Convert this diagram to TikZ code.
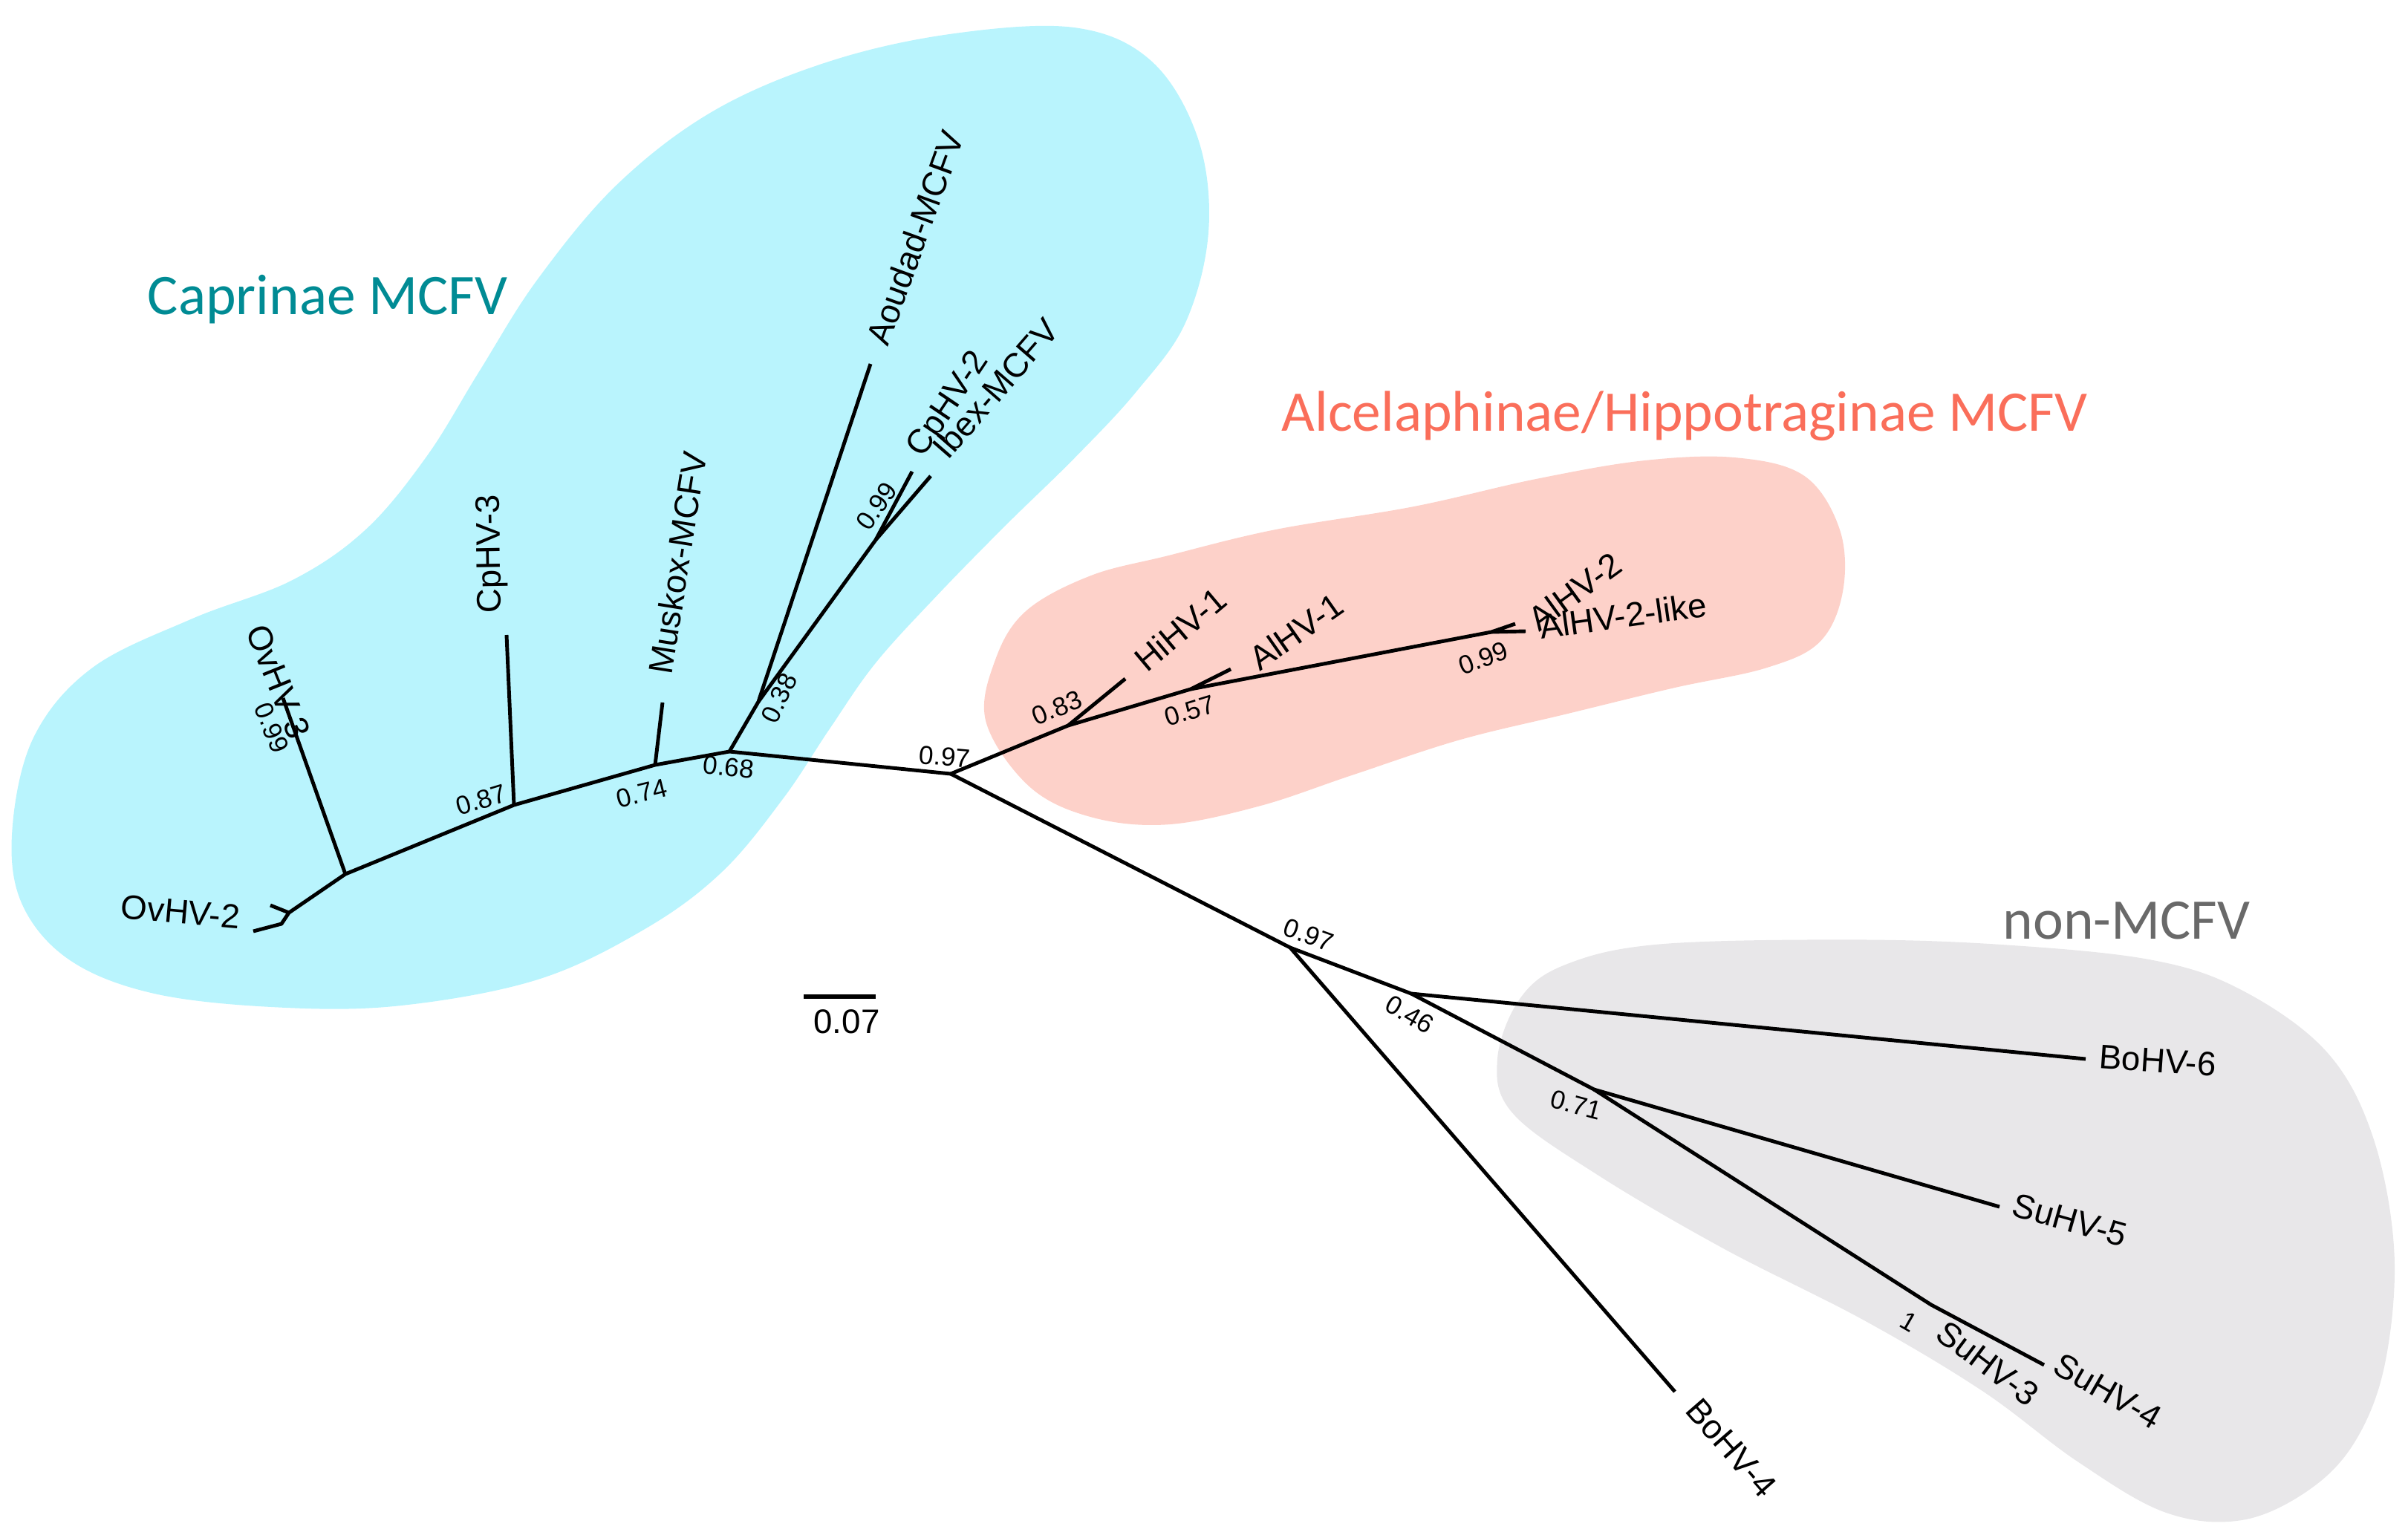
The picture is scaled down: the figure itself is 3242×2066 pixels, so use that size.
\documentclass[tikz,border=0pt]{standalone}
\usepackage{fontspec}
\setmainfont{Liberation Sans}
\newfontfamily\headfont{Carlito}
\definecolor{cyanfill}{RGB}{185,244,253}
\definecolor{salmonfill}{RGB}{253,209,201}
\definecolor{grayfill}{RGB}{232,231,233}
\definecolor{tealtext}{RGB}{0,139,148}
\definecolor{coraltext}{RGB}{250,110,90}
\definecolor{graytext}{RGB}{105,105,105}
\begin{document}
\begin{tikzpicture}[x=0.01cm,y=-0.01cm,
  branch/.style={line width=1.4pt, line join=round},
  tiplab/.style={font=\fontsize{13}{15}\selectfont, inner sep=0pt},
  supp/.style={font=\fontsize{10}{12}\selectfont, inner sep=0pt},
  head/.style={font=\headfont\fontsize{22}{26}\selectfont, inner sep=0pt, anchor=base}]
\useasboundingbox (0,0) rectangle (3242,2066);
% ---------- clade backgrounds ----------
\begin{scope}[scale=2.0676]
\fill[cyanfill] plot[smooth cycle, tension=0.6] coordinates {
 (700,18) (750,40) (780,90) (787,150) (772,210) (740,255) (700,298) (655,342)
 (610,388) (570,432) (540,475) (510,520) (470,568) (420,605) (350,638) (260,655)
 (180,656) (100,647) (45,625) (14,588) (8,540) (22,480) (60,435) (125,403)
 (190,378) (238,345) (278,297) (312,242) (350,182) (402,120) (465,72) (540,40) (620,22)};
\fill[salmonfill] plot[smooth cycle, tension=0.6] coordinates {
 (642,470) (648,430) (668,398) (710,375) (760,362) (830,345) (920,330) (1000,312)
 (1070,300) (1130,298) (1175,310) (1198,345) (1200,385) (1185,418) (1150,435)
 (1090,448) (1020,465) (950,482) (880,505) (820,525) (760,537) (710,532) (670,512)};
\fill[grayfill] plot[smooth cycle, tension=0.6] coordinates {
 (975,690) (990,650) (1020,628) (1080,615) (1200,612) (1300,615) (1400,625)
 (1460,645) (1515,685) (1545,740) (1559,815) (1553,888) (1534,938) (1504,970)
 (1460,990) (1410,985) (1353,952) (1291,906) (1214,860) (1122,813) (1040,765) (985,725)};
\end{scope}
% ---------- headings ----------
\node[head, text=tealtext] (hcap) at (441,423) {Caprinae MCFV};
\node[head, text=coraltext] (halc) at (2268,580) {Alcelaphinae/Hippotraginae MCFV};
\node[head, text=graytext] (hnon) at (2863,1264) {non-MCFV};
% ---------- tree nodes ----------
\coordinate (R) at (1280,1042);
\coordinate (E) at (982,1012);
\coordinate (D) at (882,1030);
\coordinate (C) at (692,1084);
\coordinate (B) at (465,1177);
\coordinate (A) at (389,1229);
\coordinate (a1) at (364,1219);
\coordinate (a2) at (379,1244);
\coordinate (a3) at (341,1254);
\coordinate (tOv3) at (381,940);
\coordinate (tCp3) at (682,855);
\coordinate (tMus) at (892,946);
\coordinate (F) at (1021,945);
\coordinate (tAou) at (1172,490);
\coordinate (G) at (1179,727);
\coordinate (tCp2) at (1228,635);
\coordinate (tIbx) at (1253,641);
\coordinate (H) at (1438,977);
\coordinate (tHi) at (1515,914);
\coordinate (I) at (1603,928);
\coordinate (tAl1) at (1657,901);
\coordinate (J) at (2008,851);
\coordinate (tAl2) at (2040,840);
\coordinate (tAl2l) at (2054,850);
\coordinate (S) at (1737,1276);
\coordinate (tBo4) at (2255,1874);
\coordinate (K) at (1900,1338);
\coordinate (tBo6) at (2808,1426);
\coordinate (L) at (2146,1467);
\coordinate (tSu5) at (2692,1625);
\coordinate (M) at (2600,1757);
\coordinate (tSu4) at (2752,1838);
% ---------- branches ----------
\draw[branch] (R) -- (E) -- (D) -- (C) -- (B) -- (A) -- (a1);
\draw[branch] (A) -- (a2) -- (a3);
\draw[branch] (B) -- (tOv3);
\draw[branch] (C) -- (tCp3);
\draw[branch] (D) -- (tMus);
\draw[branch] (E) -- (F) -- (tAou);
\draw[branch] (F) -- (G) -- (tIbx);
\draw[branch] (G) -- (tCp2);
\draw[branch] (R) -- (H) -- (tHi);
\draw[branch] (H) -- (I) -- (tAl1);
\draw[branch] (I) -- (J) -- (tAl2);
\draw[branch] (J) -- (tAl2l);
\draw[branch] (R) -- (S) -- (tBo4);
\draw[branch] (S) -- (K) -- (tBo6);
\draw[branch] (K) -- (L) -- (tSu5);
\draw[branch] (L) -- (M) -- (tSu4);
% ---------- tip labels ----------
\node[tiplab, rotate=-5] (lOv2) at (243,1228) {OvHV-2};
\node[tiplab, rotate=-68] (lOv3) at (375,918) {OvHV-3};
\node[tiplab, rotate=91] (lCp3) at (662,746) {CpHV-3};
\node[tiplab, rotate=81] (lMus) at (912,758) {Muskox-MCFV};
\node[tiplab, rotate=70] (lAou) at (1232,320) {Aoudad-MCFV};
\node[tiplab, rotate=56] (lCp2) at (1278,545) {CpHV-2};
\node[tiplab, rotate=49] (lIbx) at (1340,523) {Ibex-MCFV};
\node[tiplab, rotate=40] (lHi) at (1589,847) {HiHV-1};
\node[tiplab, rotate=35] (lAl1) at (1745,850) {AlHV-1};
\node[tiplab, rotate=36] (lAl2) at (2120,796) {AlHV-2};
\node[tiplab, rotate=8] (lAl2l) at (2185,829) {AlHV-2-like};
\node[tiplab, rotate=-4] (lBo6) at (2905,1428) {BoHV-6};
\node[tiplab, rotate=-16] (lSu5) at (2787,1643) {SuHV-5};
\node[tiplab, rotate=-37] (lSu3) at (2676,1836) {SuHV-3};
\node[tiplab, rotate=-30] (lSu4) at (2838,1873) {SuHV-4};
\node[tiplab, rotate=-49] (lBo4) at (2331,1950) {BoHV-4};
% ---------- support values ----------
\node[supp, rotate=-68] (s1) at (366,980) {0.99};
\node[supp, rotate=17] (s2) at (648,1077) {0.87};
\node[supp, rotate=14] (s3) at (864,1068) {0.74};
\node[supp, rotate=-6] (s4) at (981,1033) {0.68};
\node[supp, rotate=65] (s5) at (1049,940) {0.38};
\node[supp, rotate=55] (s6) at (1180,682) {0.99};
\node[supp, rotate=-5] (s7) at (1272,1019) {0.97};
\node[supp, rotate=22] (s8) at (1423,953) {0.83};
\node[supp, rotate=17] (s9) at (1602,957) {0.57};
\node[supp, rotate=20] (s10) at (1997,886) {0.99};
\node[supp, rotate=-20] (s11) at (1762,1259) {0.97};
\node[supp, rotate=-30] (s12) at (1898,1366) {0.46};
\node[supp, rotate=-15] (s13) at (2122,1488) {0.71};
\node[supp, rotate=-30] (s14) at (2570,1780) {1};
% ---------- scale bar ----------
\coordinate (sb1) at (1082,1342);
\coordinate (sb2) at (1179,1342);
\draw[line width=1.8pt] (sb1) -- (sb2);
\node[tiplab] (sbl) at (1140,1376) {0.07};
\end{tikzpicture}
\end{document}
